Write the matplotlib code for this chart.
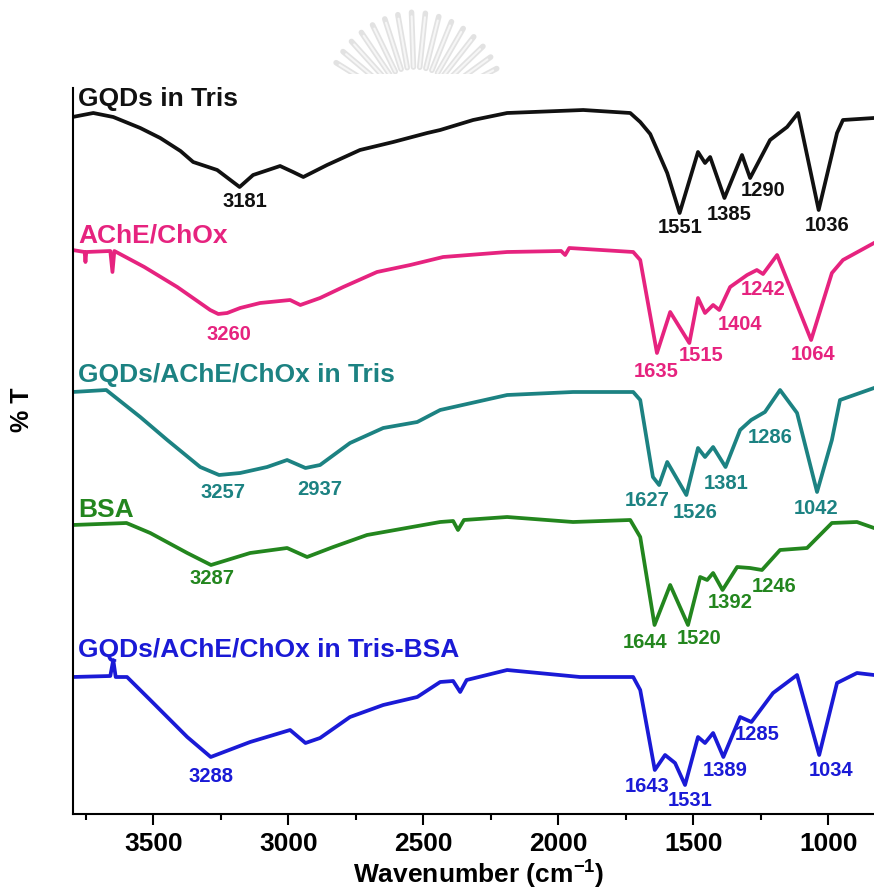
import numpy as np
import matplotlib.pyplot as plt
from matplotlib import font_manager

names = {f.name for f in font_manager.fontManager.ttflist}
base_font = 'Liberation Sans Narrow' if 'Liberation Sans Narrow' in names else 'Liberation Sans'
plt.rcParams['font.family'] = [base_font, 'DejaVu Sans']
plt.rcParams['font.weight'] = 'bold'
plt.rcParams['mathtext.fontset'] = 'custom'
plt.rcParams['mathtext.bf'] = base_font + ':bold'
plt.rcParams['mathtext.rm'] = base_font + ':bold'
plt.rcParams['mathtext.default'] = 'bf'

# FTIR spectra (wavenumber in cm-1, stacked %T)
wn_gqds = [3800, 3723, 3649, 3549, 3475, 3400, 3353, 3264, 3181, 3131, 3031, 2983, 2945, 2857,
           2735, 2612, 2486, 2438, 2316, 2190, 1908, 1734, 1697, 1660, 1634, 1597, 1551, 1483,
           1457, 1438, 1385, 1320, 1290, 1216, 1153, 1112, 1036, 968, 946, 831]
t_gqds = [69.7, 70.1, 69.7, 68.6, 67.6, 66.3, 65.2, 64.4, 62.7, 63.9, 64.8, 64.2, 63.7, 64.9,
          66.4, 67.2, 68.1, 68.4, 69.4, 70.1, 70.4, 70.1, 69.2, 68.0, 66.4, 64.1, 60.1, 66.2,
          65.1, 65.7, 61.6, 65.9, 63.6, 67.4, 68.7, 70.1, 60.4, 68.1, 69.4, 69.6]

wn_enz = [3800, 3755, 3752, 3749, 3660, 3652, 3645, 3631, 3534, 3412, 3290, 3260, 3227, 3179,
          3105, 2994, 2956, 2883, 2797, 2672, 2549, 2427, 2190, 1990, 1975, 1960, 1723, 1697,
          1635, 1586, 1515, 1483, 1457, 1427, 1404, 1364, 1301, 1265, 1242, 1190, 1064, 987,
          946, 831]
t_enz = [56.4, 56.2, 55.2, 56.2, 56.3, 54.2, 56.3, 56.1, 54.7, 52.7, 50.4, 50.0, 50.1, 50.6,
         51.1, 51.4, 50.9, 51.6, 52.7, 54.2, 54.9, 55.7, 56.2, 56.3, 55.9, 56.6, 56.2, 55.4,
         46.1, 50.2, 47.1, 51.6, 50.1, 50.9, 50.4, 52.7, 53.9, 54.4, 54.0, 55.9, 47.4, 54.1,
         55.4, 57.1]

wn_mix = [3800, 3675, 3549, 3449, 3327, 3257, 3179, 3079, 3005, 2937, 2883, 2772, 2649, 2523,
          2438, 2190, 1946, 1723, 1697, 1650, 1627, 1597, 1526, 1483, 1457, 1427, 1381, 1327,
          1286, 1235, 1179, 1116, 1042, 987, 957, 831]
t_mix = [42.2, 42.4, 39.7, 37.4, 34.7, 33.9, 34.1, 34.7, 35.4, 34.6, 34.9, 37.1, 38.6, 39.2,
         40.4, 41.9, 42.2, 42.2, 41.4, 33.7, 32.9, 35.2, 31.9, 36.6, 35.7, 36.7, 34.7, 38.4,
         39.4, 40.2, 42.4, 40.1, 32.2, 37.4, 41.4, 42.6]

wn_bsa = [3800, 3600, 3512, 3375, 3287, 3142, 3005, 2931, 2834, 2709, 2438, 2390, 2372, 2350,
          2190, 1946, 1734, 1697, 1644, 1586, 1520, 1475, 1449, 1427, 1392, 1338, 1290, 1246,
          1179, 1079, 987, 894, 831]
t_bsa = [28.9, 29.1, 28.1, 26.1, 24.9, 26.1, 26.6, 25.7, 26.7, 27.9, 29.2, 29.3, 28.4, 29.4,
         29.7, 29.2, 29.4, 27.7, 18.9, 22.9, 18.9, 23.7, 23.4, 24.1, 22.4, 24.7, 24.6, 24.4,
         26.4, 26.6, 29.1, 29.2, 28.6]

wn_all = [3800, 3660, 3649, 3640, 3598, 3512, 3375, 3288, 3142, 2994, 2937, 2883, 2772, 2649,
          2523, 2438, 2390, 2364, 2340, 2190, 1920, 1723, 1697, 1643, 1605, 1568, 1531, 1483,
          1457, 1427, 1389, 1327, 1285, 1205, 1116, 1034, 968, 894, 831]
t_all = [13.7, 13.8, 15.4, 13.7, 13.7, 11.4, 7.7, 5.7, 7.2, 8.4, 7.1, 7.6, 9.7, 10.9,
         11.7, 13.2, 13.3, 12.2, 13.4, 14.4, 13.7, 13.7, 12.4, 4.4, 5.9, 5.1, 2.9, 7.7,
         7.1, 8.1, 5.7, 9.7, 9.2, 12.1, 13.9, 5.9, 13.1, 14.1, 13.9]

names_ = ['GQDs in Tris', 'AChE/ChOx', 'GQDs/AChE/ChOx in Tris', 'BSA',
          'GQDs/AChE/ChOx in Tris-BSA']
colors = ['#111111', '#E6237F', '#1C8282', '#23861E', '#1A1AD6']

peaks_gqds = [3181, 1551, 1385, 1290, 1036]
peaks_enz = [3260, 1635, 1515, 1404, 1242, 1064]
peaks_mix = [3257, 2937, 1627, 1526, 1381, 1286, 1042]
peaks_bsa = [3287, 1644, 1520, 1392, 1246]
peaks_all = [3288, 1643, 1531, 1389, 1285, 1034]

# where each peak number sits (x in cm-1, y in %T units)
label_pos = [
    [(3160, 61.2), (1549, 58.6), (1368, 59.9), (1242, 62.3), (1005, 58.8)],
    [(3219, 47.9), (1638, 44.2), (1472, 45.8), (1327, 48.9), (1242, 52.4), (1057, 45.9)],
    [(3242, 32.1), (2883, 32.4), (1672, 31.3), (1494, 30.1), (1379, 33.0), (1216, 37.6), (1046, 30.6)],
    [(3282, 23.5), (1679, 17.1), (1479, 17.5), (1364, 21.1), (1201, 22.8)],
    [(3286, 3.7), (1671, 2.8), (1512, 1.4), (1383, 4.4), (1264, 7.9), (991, 4.4)],
]
name_y = [71.5, 57.8, 43.9, 30.4, 16.4]

spectra = [(wn_gqds, t_gqds), (wn_enz, t_enz), (wn_mix, t_mix), (wn_bsa, t_bsa), (wn_all, t_all)]
peaks = [peaks_gqds, peaks_enz, peaks_mix, peaks_bsa, peaks_all]

fig = plt.figure(figsize=(8.74, 8.94), dpi=100)

# faint emblem behind the top of the chart
wm = fig.add_axes([0, 1 - 74 / 894, 1, 74 / 894])
wm.set_xlim(0, 874)
wm.set_ylim(74, 0)
wm.axis('off')
for ang in np.arange(28, 156, 8):
    a = np.deg2rad(ang)
    r1 = 100 - abs(ang - 90) * 0.12
    wm.plot([415 + 45 * np.cos(a), 415 + r1 * np.cos(a)],
            [112 - 45 * np.sin(a), 112 - r1 * np.sin(a)],
            color='#e2e2e2', lw=4, solid_capstyle='round')
    wm.plot([415 + 45 * np.cos(a), 415 + (r1 - 4) * np.cos(a)],
            [112 - 45 * np.sin(a), 112 - (r1 - 4) * np.sin(a)],
            color='#f6f6f6', lw=1.5, solid_capstyle='round')

ax = fig.add_axes([72.5 / 874, 1 - 814 / 894, 1 - 72.5 / 874, (814 - 88) / 894])
for (wn, t), c, name, ny, pk, lp in zip(spectra, colors, names_, name_y, peaks, label_pos):
    ax.plot(wn, t, color=c, lw=2.7, solid_joinstyle='round')
    ax.text(3780, ny, name, color=c, fontsize=19, fontweight='bold', ha='left', va='center')
    for p, (lx, ly) in zip(pk, lp):
        ax.text(lx, ly, str(p), color=c, fontsize=14.5, fontweight='bold', ha='center', va='center')

ax.set_xlim(3800, 831)
ax.set_ylim(0, 72.6)
ax.set_xticks([3500, 3000, 2500, 2000, 1500, 1000])
ax.set_xticks([3750, 3250, 2750, 2250, 1750, 1250], minor=True)
ax.set_yticks([])
ax.tick_params(axis='x', which='major', length=8, width=1.5, labelsize=19, pad=5)
ax.tick_params(axis='x', which='minor', length=4.5, width=1.5)
for lab in ax.get_xticklabels():
    lab.set_fontweight('bold')
for s in ['top', 'right']:
    ax.spines[s].set_visible(False)
for s in ['left', 'bottom']:
    ax.spines[s].set_linewidth(1.5)

fig.text(479 / 874, 1 - 875 / 894, r'Wavenumber (cm$^{-1}$)', fontsize=19,
         fontweight='bold', ha='center', va='center')
fig.text(22 / 874, 1 - 410 / 894, '% T', fontsize=18, fontweight='bold',
         rotation=90, ha='center', va='center')

fig.savefig('out.png', dpi=100)
